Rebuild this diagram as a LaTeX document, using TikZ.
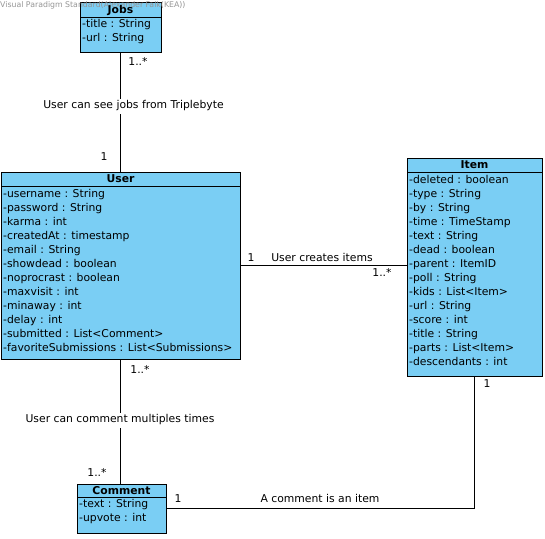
\documentclass[tikz,border=0pt]{standalone}
\usepackage{fontspec}
\setmainfont{DejaVu Sans}
\definecolor{clsfill}{RGB}{122,206,244}
\definecolor{wmgray}{RGB}{150,150,150}
\tikzset{
  cls/.style={draw=black, line width=1pt, fill=clsfill, inner sep=0pt, outer sep=0pt},
  clstitle/.style={font=\fontsize{10.8}{12}\selectfont\bfseries, inner sep=0pt, text height=7.5pt, text depth=0pt},
  attr/.style={font=\fontsize{10.8}{12}\selectfont, anchor=west, inner sep=0pt, text height=7pt, text depth=2pt},
  lbl/.style={font=\fontsize{10.8}{12}\selectfont, inner sep=0pt, text height=7pt, text depth=2pt},
  midlbl/.style={lbl, fill=white, inner ysep=3pt, inner xsep=1pt},
  conn/.style={draw=black, line width=0.8pt},
  sep/.style={draw=black, line width=0.8pt}
}
\begin{document}
\begin{tikzpicture}[x=1pt,y=-1pt]
\useasboundingbox[fill=white] (0,0) rectangle (545,538);

% boxes
\node[cls, minimum width=81pt, minimum height=50pt] (jobs) at (120.5,27) {};
\node[cls, minimum width=239pt, minimum height=187pt] (user) at (120.5,265.5) {};
\node[cls, minimum width=135pt, minimum height=218pt] (item) at (474.5,267) {};
\node[cls, minimum width=89pt, minimum height=49pt] (comment) at (121.5,508.5) {};

% watermark
\node[font=\fontsize{7.8}{9}\selectfont, text=wmgray, anchor=west, inner sep=0pt] (wm) at (0,5) {Visual Paradigm Standard(Alexander Falk(KEA))};

% separators
\draw[sep] ([yshift=-15pt]jobs.north west) -- ([yshift=-15pt]jobs.north east);
\draw[sep] ([yshift=-14pt]user.north west) -- ([yshift=-14pt]user.north east);
\draw[sep] ([yshift=-14pt]item.north west) -- ([yshift=-14pt]item.north east);
\draw[sep] ([yshift=-13pt]comment.north west) -- ([yshift=-13pt]comment.north east);

% titles
\node[clstitle] (jobs-t) at ([yshift=-8pt]jobs.north) {Jobs};
\node[clstitle] (user-t) at ([yshift=-7pt]user.north) {User};
\node[clstitle] (item-t) at ([yshift=-7pt]item.north) {Item};
\node[clstitle] (comment-t) at ([yshift=-6.5pt]comment.north) {Comment};

% attributes
\foreach \t [count=\i] in {-title : String, -url : String}
  \node[attr] (jobs-a\i) at ([xshift=2pt,yshift={-23pt-(\i-1)*14pt}]jobs.north west) {\t};
\foreach \t [count=\i] in {-username : String, -password : String, -karma : int, -createdAt : timestamp, -email : String, -showdead : boolean, -noprocrast : boolean, -maxvisit : int, -minaway : int, -delay : int, -submitted : List<Comment>, -favoriteSubmissions : List<Submissions>}
  \node[attr] (user-a\i) at ([xshift=2pt,yshift={-23pt-(\i-1)*14pt}]user.north west) {\t};
\foreach \t [count=\i] in {-deleted : boolean, -type : String, -by : String, -time : TimeStamp, -text : String, -dead : boolean, -parent : ItemID, -poll : String, -kids : List<Item>, -url : String, -score : int, -title : String, -parts : List<Item>, -descendants : int}
  \node[attr] (item-a\i) at ([xshift=2pt,yshift={-23pt-(\i-1)*14pt}]item.north west) {\t};
\foreach \t [count=\i] in {-text : String, -upvote : int}
  \node[attr] (comment-a\i) at ([xshift=2pt,yshift={-21pt-(\i-1)*14pt}]comment.north west) {\t};

% connectors
\draw[conn] (jobs.south) -- (jobs.south |- user.north);
\draw[conn] (user.east |- 0,265) -- (item.west |- 0,265);
\draw[conn] (user.south) -- (user.south |- comment.north);
\draw[conn] (comment.east) -- (comment.east -| item.south) -- (item.south);

% labels
\node[lbl] (l1) at (138,63) {1..*};
\node[midlbl] (l2) at (133.5,106) {User can see jobs from Triplebyte};
\node[lbl] (l3) at (104,158) {1};
\node[lbl] (l4) at (251,259) {1};
\node[lbl] (l5) at (322,259) {User creates items};
\node[lbl] (l6) at (382,274) {1..*};
\node[lbl] (l7) at (140,371) {1..*};
\node[midlbl] (l8) at (120,420) {User can comment multiples times};
\node[lbl] (l9) at (97,474) {1..*};
\node[lbl] (l10) at (178,500) {1};
\node[lbl] (l11) at (320,500) {A comment is an item};
\node[lbl] (l12) at (487,385) {1};
\end{tikzpicture}
\end{document}
